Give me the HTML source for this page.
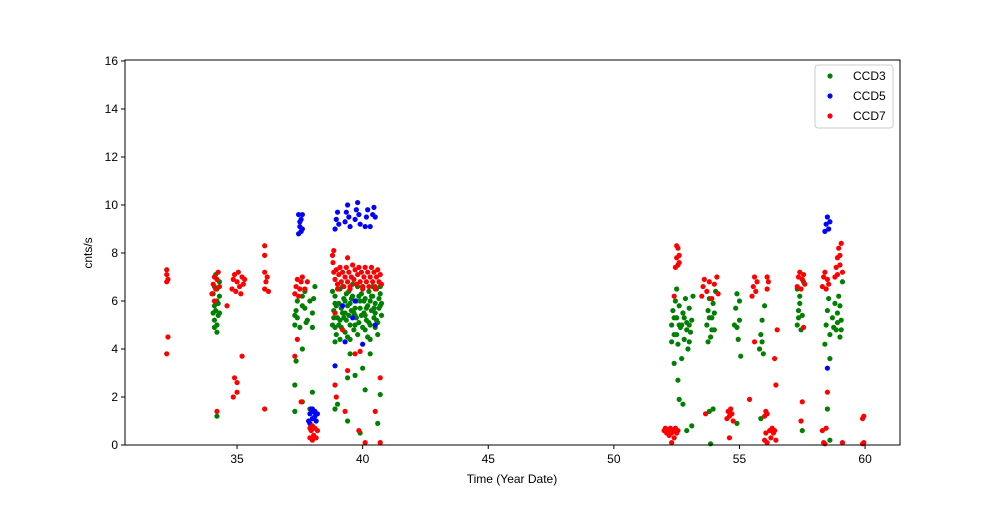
<!DOCTYPE html>
<html><head><meta charset="utf-8"><style>
body{margin:0;background:#fff}
svg text{font-family:"Liberation Sans",sans-serif;font-size:12px;fill:#000}
</style></head><body>
<svg id="chart" width="1000" height="500" viewBox="0 0 1000 500" xmlns="http://www.w3.org/2000/svg">
<rect width="1000" height="500" fill="#fff"/>
<g id="marks"></g>
<rect x="125" y="60" width="775" height="385" fill="none" stroke="#000" stroke-width="1"/>
<g id="axes"></g>
<text x="512" y="483" text-anchor="middle">Time (Year Date)</text>
<text transform="translate(92,253) rotate(-90)" text-anchor="middle">cnts/s</text>
<g>
<rect x="815" y="65" width="78" height="63" rx="3" fill="#fff" fill-opacity="0.8" stroke="#ccc"/>
<circle cx="830" cy="76" r="2.6" fill="green"/><text x="853" y="80">CCD3</text>
<circle cx="830" cy="96" r="2.6" fill="blue"/><text x="853" y="100">CCD5</text>
<circle cx="830" cy="116" r="2.6" fill="red"/><text x="853" y="120">CCD7</text>
</g>
</svg>
<script>
const xTicks=[35,40,45,50,55,60];
const yTicks=[0,2,4,6,8,10,12,14,16];
const ccd3=[[34.1,5.2],[34.15,5.6],[34.2,6.0],[34.25,5.4],[34.1,4.9],[34.2,4.7],[34.3,6.8],[34.15,7.1],[34.05,6.3],[34.25,5.9],[34.1,5.8],[34.2,5.0],[34.3,5.5],[34.2,6.5],[34.2,1.2],[34.1,6.6],[34.05,5.5],[34.3,6.2],
[37.3,5.0],[37.35,5.6],[37.4,6.0],[37.3,5.4],[37.5,4.9],[37.6,5.8],[37.7,6.4],[37.8,5.2],[37.9,6.0],[38.0,5.5],[38.1,6.6],[38.0,4.9],[37.75,5.1],[37.6,6.2],[37.3,2.5],[37.3,1.4],[37.35,3.5],[37.6,1.8],[37.6,4.0],[38.0,2.2],[37.9,1.5],[37.4,5.3],[37.7,5.7],[38.05,6.1],
[38.8,5.0],[38.85,5.6],[38.9,6.2],[38.95,4.6],[39.0,5.3],[39.05,5.9],[39.1,6.5],[39.15,4.9],[39.2,5.5],[39.25,6.1],[39.3,4.7],[39.35,5.2],[39.4,5.8],[39.45,6.4],[39.5,5.0],[39.55,5.6],[39.6,6.2],[39.65,4.8],[39.7,5.4],[39.75,6.0],[39.8,6.6],[39.85,5.1],[39.9,5.7],[39.95,6.3],[40.0,4.9],[40.05,5.5],[40.1,6.1],[40.15,5.2],[40.2,5.8],[40.25,6.4],[40.3,5.0],[40.35,5.6],[40.4,6.2],[40.45,5.3],[40.5,5.9],[40.55,6.5],[40.6,5.1],[40.65,5.7],[40.7,6.3],[40.75,5.4],[38.9,5.9],[39.1,5.2],[39.3,6.0],[39.5,5.9],[39.7,5.0],[39.9,6.0],[40.1,5.4],[40.3,6.0],[40.5,5.5],[40.7,5.8],[39.0,6.7],[39.4,4.5],[39.8,4.6],[40.2,4.5],[40.6,4.6],[38.9,4.3],
[38.85,5.3],[38.95,5.8],[39.05,5.0],[39.15,5.7],[39.25,5.3],[39.35,6.3],[39.45,5.4],[39.55,6.1],[39.65,5.5],[39.75,5.3],[39.85,6.2],[39.95,5.4],[40.05,6.0],[40.15,5.7],[40.25,5.1],[40.35,6.2],[40.45,5.7],[40.55,5.2],[40.65,6.1],[40.75,5.9],[38.8,6.4],[39.2,6.6],[39.6,6.7],[40.0,6.6],[40.4,6.6],[40.7,6.6],[38.9,4.9],[39.3,5.5],[39.7,5.7],[40.1,4.8],[40.5,4.9],[39.1,4.4],[39.5,4.4],[40.3,4.4],
[39.5,3.8],[39.7,2.9],[39.4,1.0],[39.9,0.5],[40.7,2.1],[40.0,3.2],[40.1,2.3],[40.3,3.8],[39.4,2.8],[38.9,1.5],[39.0,1.7],[40.6,0.9],
[52.3,5.0],[52.35,5.6],[52.4,4.6],[52.45,6.0],[52.5,5.3],[52.55,4.2],[52.6,5.8],[52.65,4.9],[52.7,3.6],[52.75,5.5],[52.8,4.4],[52.85,6.1],[52.9,5.1],[52.95,4.0],[53.0,5.7],[53.05,4.7],[53.1,5.2],[53.15,6.2],[52.5,6.5],[52.7,5.0],[52.9,4.8],[53.0,4.3],[52.4,3.4],[52.6,1.9],[52.75,1.7],[52.55,2.7],[52.9,0.6],[53.1,0.8],[52.3,4.3],[52.4,5.3],[52.6,5.0],[52.8,5.3],[53.0,5.0],[52.5,4.6],
[53.7,5.0],[53.75,5.6],[53.8,6.1],[53.85,4.5],[53.9,5.3],[53.95,5.9],[54.0,4.8],[54.05,6.4],[53.75,4.3],[54.0,5.5],[53.8,1.4],[53.95,1.5],[53.85,0.05],[53.8,5.3],[53.9,4.8],
[54.8,5.0],[54.85,5.7],[54.9,6.3],[54.95,4.4],[55.0,5.2],[55.05,3.7],[54.9,4.9],[55.0,6.0],[54.9,0.9],
[55.8,4.0],[55.85,4.6],[55.9,5.2],[55.95,3.8],[56.0,5.8],[55.9,4.3],[55.85,1.1],
[57.3,5.0],[57.35,5.6],[57.4,6.2],[57.45,4.8],[57.5,5.4],[57.55,6.8],[57.4,5.9],[57.3,6.5],[57.5,0.6],[57.35,5.3],
[58.4,4.2],[58.45,5.0],[58.5,5.6],[58.55,6.1],[58.6,4.6],[58.7,5.3],[58.8,5.9],[58.85,4.8],[58.9,5.5],[58.95,6.2],[59.0,4.5],[59.05,5.2],[59.1,6.8],[58.6,3.6],[58.5,1.5],[58.6,0.2],[59.0,5.8],[58.75,4.9],[58.9,5.1],[59.05,4.8]];
const ccd5=[[37.45,8.8],[37.5,9.1],[37.55,9.4],[37.45,9.6],[37.6,9.0],[37.5,9.3],[37.55,8.9],[37.6,9.6],
[37.85,1.0],[37.9,1.3],[37.95,1.5],[38.0,1.1],[38.05,1.4],[38.1,1.2],[38.15,1.0],[38.2,1.3],[37.9,0.9],[38.0,1.5],[38.1,1.4],
[38.9,9.0],[38.95,9.4],[39.0,9.7],[39.05,9.2],[39.3,9.3],[39.35,9.7],[39.4,10.0],[39.45,9.5],[39.5,9.1],[39.7,9.4],[39.75,9.8],[39.8,10.1],[39.85,9.6],[39.9,9.2],[40.1,9.1],[40.15,9.5],[40.2,9.8],[40.4,9.6],[40.45,9.9],[40.5,9.5],[40.3,9.1],
[39.3,4.3],[39.6,5.3],[40.0,4.2],[40.5,5.0],[38.9,3.3],[39.7,6.0],[39.2,5.8],
[58.4,8.9],[58.45,9.2],[58.5,9.5],[58.55,9.0],[58.6,9.3],[58.5,3.2]];
const ccd7=[[32.2,6.8],[32.2,7.1],[32.25,6.9],[32.2,7.3],[32.2,3.8],[32.25,4.5],
[34.0,6.3],[34.05,6.7],[34.1,7.0],[34.15,6.5],[34.2,6.9],[34.25,7.2],[34.3,6.6],[34.1,6.0],[34.2,1.4],[34.6,5.8],
[34.8,6.5],[34.85,6.9],[34.9,7.1],[34.95,6.4],[35.0,6.8],[35.05,7.2],[35.1,6.6],[35.15,6.3],[35.2,7.0],[35.25,6.7],[35.3,6.9],[34.9,2.8],[34.85,2.0],[35.0,2.6],[35.0,2.2],[35.2,3.7],
[36.1,6.5],[36.15,6.8],[36.2,7.0],[36.25,6.4],[36.1,7.9],[36.1,8.3],[36.1,7.2],[36.1,1.5],
[37.3,6.3],[37.35,6.6],[37.4,6.9],[37.45,6.2],[37.5,6.5],[37.55,6.8],[37.6,7.0],[37.7,6.5],[37.8,6.8],[37.3,3.7],[37.4,4.4],[37.55,1.8],
[37.9,0.3],[37.95,0.6],[38.0,0.8],[38.05,0.4],[38.1,0.7],[38.15,0.3],[38.2,0.6],[37.9,0.7],[38.0,0.2],
[38.8,7.9],[38.82,7.6],[38.85,8.1],[38.85,7.2],[38.9,6.9],[38.95,7.3],[39.0,6.7],[39.05,7.1],[39.1,7.4],[39.15,6.8],[39.2,7.2],[39.25,6.6],[39.3,7.0],[39.35,7.4],[39.4,6.8],[39.45,7.2],[39.5,6.6],[39.55,7.0],[39.6,7.5],[39.65,6.9],[39.7,7.3],[39.75,6.7],[39.8,7.1],[39.85,7.4],[39.9,6.8],[39.95,7.2],[40.0,6.6],[40.05,7.0],[40.1,7.4],[40.15,6.8],[40.2,7.2],[40.25,6.6],[40.3,7.0],[40.35,7.4],[40.4,6.8],[40.45,7.2],[40.5,6.6],[40.55,7.0],[40.6,7.3],[40.65,6.8],[40.7,7.1],[40.75,6.7],[39.0,6.5],[39.5,6.5],[40.0,6.5],[40.5,6.5],[39.4,7.8],
[38.9,5.5],[39.2,4.8],[39.3,1.4],[39.4,3.1],[39.7,3.8],[39.9,3.9],[39.85,0.6],[40.1,0.1],[40.7,2.8],[40.5,1.4],[40.7,0.1],[38.9,2.5],[38.95,2.0],
[52.0,0.6],[52.05,0.7],[52.1,0.5],[52.15,0.6],[52.2,0.4],[52.25,0.7],[52.3,0.5],[52.35,0.6],[52.4,0.3],[52.45,0.7],[52.5,0.5],[52.55,0.6],[52.3,0.1],
[52.45,7.4],[52.5,7.8],[52.55,8.2],[52.6,7.6],[52.5,8.3],[52.55,7.5],[52.6,7.9],[52.4,6.2],
[53.5,6.2],[53.55,6.6],[53.6,6.9],[53.7,6.4],[53.8,6.8],[53.9,6.1],[54.0,6.7],[54.1,7.0],[54.15,6.3],[53.65,1.3],
[54.5,1.1],[54.55,1.4],[54.6,1.2],[54.65,1.5],[54.7,1.3],[54.75,1.0],[54.6,0.3],
[55.5,6.2],[55.55,6.6],[55.6,7.0],[55.65,6.4],[55.7,6.8],[55.6,4.3],[55.4,1.9],
[56.0,0.2],[56.05,0.5],[56.1,0.1],[56.2,0.6],[56.25,0.3],[56.3,0.7],[56.35,0.5],[56.4,0.6],[56.45,0.2],[56.0,1.2],[56.05,1.4],[56.1,1.3],[56.1,6.5],[56.15,6.8],[56.1,7.0],[56.4,3.6],[56.45,2.5],[56.5,4.8],
[57.3,6.6],[57.35,7.0],[57.4,7.2],[57.45,6.5],[57.5,6.9],[57.55,7.1],[57.6,6.7],[57.5,1.8],[57.45,1.0],[57.55,4.9],
[58.3,6.6],[58.35,7.0],[58.4,7.2],[58.45,6.5],[58.5,6.9],[58.55,6.7],[58.35,0.1],[58.4,0.05],[58.45,0.7],[58.5,2.2],[58.3,0.6],
[58.8,7.0],[58.85,7.4],[58.9,7.8],[58.95,8.2],[59.0,7.5],[59.05,8.4],[59.1,7.2],[58.9,7.1],[59.0,7.9],[59.1,0.1],
[59.9,1.1],[59.95,1.2],[59.9,0.05],[59.95,0.1]];
const X0=30.54,X1=61.39,Y0=0,Y1=16.04,L=125,R=900,T=60,B=445;
const sx=v=>L+(v-X0)/(X1-X0)*(R-L);
const sy=v=>B-(v-Y0)/(Y1-Y0)*(B-T);
const NS="http://www.w3.org/2000/svg";
const marks=document.getElementById('marks'),axes=document.getElementById('axes');
function mk(t,a,p){const e=document.createElementNS(NS,t);for(const k in a)e.setAttribute(k,a[k]);p.appendChild(e);return e;}
[[ccd3,'green','ccd3-point'],[ccd5,'blue','ccd5-point'],[ccd7,'red','ccd7-point']].forEach(([d,c,n])=>{
 d.forEach(p=>{const e=mk('circle',{cx:sx(p[0]),cy:sy(p[1]),r:2.6,fill:c},marks);
 
 });
});
xTicks.forEach(v=>{const x=sx(v);mk('line',{x1:x,x2:x,y1:B,y2:B+4,stroke:'#000'},axes);
 const t=mk('text',{x:x,y:B+18,'text-anchor':'middle'},axes);t.textContent=v;
 
 });
yTicks.forEach(v=>{const y=sy(v);mk('line',{x1:L-4,x2:L,y1:y,y2:y,stroke:'#000'},axes);
 const t=mk('text',{x:L-7,y:y+4,'text-anchor':'end'},axes);t.textContent=v;
 
 });
</script>
</body></html>
